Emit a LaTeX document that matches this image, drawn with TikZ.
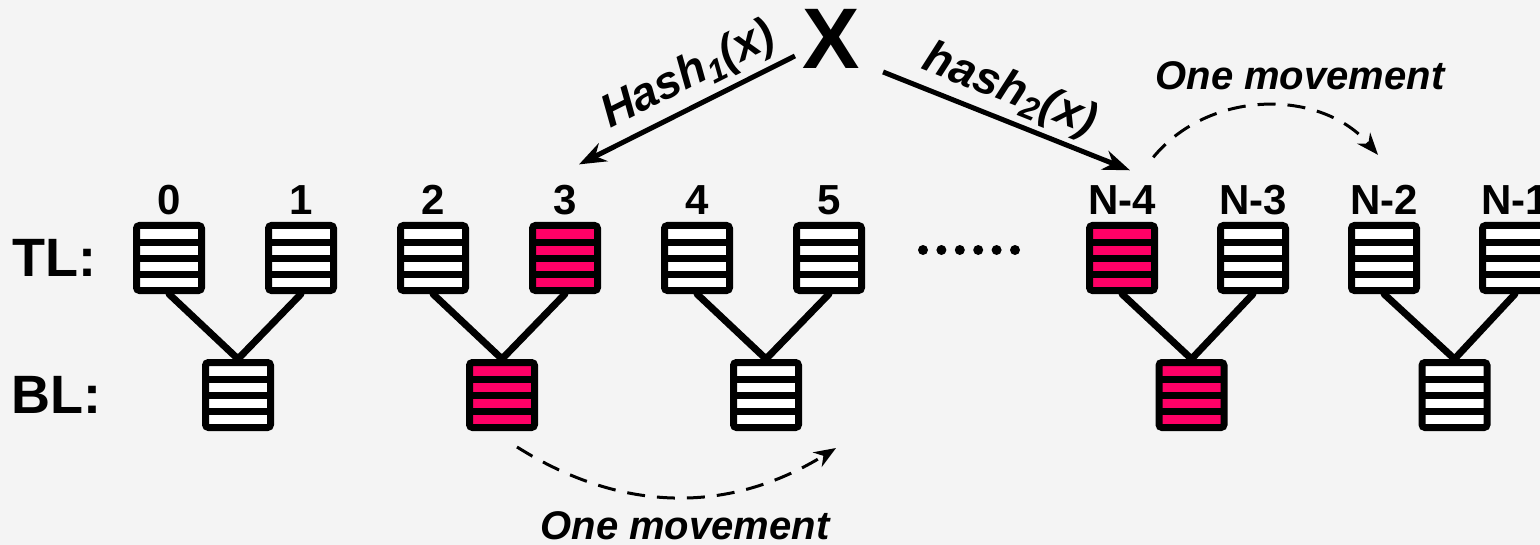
\documentclass[tikz,border=0pt]{standalone}
\usepackage{fontspec}
\setmainfont{Liberation Sans}
\usetikzlibrary{calc}
\usetikzlibrary{positioning}
\usetikzlibrary{arrows.meta}
\definecolor{hotred}{RGB}{255,0,102}
\definecolor{paper}{RGB}{244,244,244}

\begin{document}
\begin{tikzpicture}[x=0.5pt,y=-0.5pt,node distance=66pt,
  bucket/.style={draw,line width=3.5pt,fill=white,rounded corners=1.5pt,minimum size=32.5pt,inner sep=0pt,
    path picture={\foreach \s in {-8pt,0pt,8pt}
      \draw[line width=3.5pt] ([yshift=\s]path picture bounding box.west) -- ([yshift=\s]path picture bounding box.east);}},
  hot/.style={bucket,fill=hotred},
  num/.style={font=\fontsize{21}{25}\selectfont\bfseries,inner sep=0pt},
  lvl/.style={font=\fontsize{27}{32}\selectfont\bfseries,inner sep=0pt},
  lbl/.style={font=\fontsize{23}{27}\selectfont\bfseries\itshape,inner sep=0pt},
  mv/.style={font=\fontsize{20}{24}\selectfont\bfseries\itshape,inner sep=0pt},
  link/.style={line width=3.5pt,line cap=round},
  hasharrow/.style={line width=2.5pt,-{Stealth[length=13.5pt,width=10pt]}},
  move/.style={line width=1.5pt,dash pattern=on 9pt off 6pt,-{Stealth[length=11pt,width=8.5pt]}}]
\path[use as bounding box,fill=paper] (0,0) rectangle (1540,545);

% top level
\node[bucket] (t0) at (169,258) {};
\node[bucket] (t1) [right of=t0] {};
\node[bucket] (t2) [right of=t1] {};
\node[hot] (t3) [right of=t2] {};
\node[bucket] (t4) [right of=t3] {};
\node[bucket] (t5) [right of=t4] {};
\node[hot] (t6) [right of=t5, node distance=146.5pt] {};
\node[bucket] (t7) [right of=t6, node distance=65.5pt] {};
\node[bucket] (t8) [right of=t7, node distance=65.5pt] {};
\node[bucket] (t9) [right of=t8, node distance=65.5pt] {};

\node[num] (l0) [above=3.5pt of t0] {0};
\node[num] (l1) [above=3.5pt of t1] {1};
\node[num] (l2) [above=3.5pt of t2] {2};
\node[num] (l3) [above=3.5pt of t3] {3};
\node[num] (l4) [above=3.5pt of t4] {4};
\node[num] (l5) [above=3.5pt of t5] {5};
\node[num] (l6) [above=3.5pt of t6] {N-4};
\node[num] (l7) [above=3.5pt of t7] {N-3};
\node[num] (l8) [above=3.5pt of t8] {N-2};
\node[num] (l9) [above=3.5pt of t9] {N-1};

% bottom level
\node[bucket] (b0) at ($(t0)!0.5!(t1)+(3,137)$) {};
\node[hot] (b1) at ($(t2)!0.5!(t3)+(3,137)$) {};
\node[bucket] (b2) at ($(t4)!0.5!(t5)+(3,137)$) {};
\node[hot] (b3) at ($(t6)!0.5!(t7)+(4,137)$) {};
\node[bucket] (b4) at ($(t8)!0.5!(t9)+(5,137)$) {};

\node[lvl] (tl) [left=18pt of t0] {TL:};
\node[lvl,anchor=east,xshift=2.5pt] (bl) at (tl.east |- b0) {BL:};

\path[link]
    (t0.south) edge (b0.north)
    (t1.south) edge (b0.north)
    (t2.south) edge (b1.north)
    (t3.south) edge (b1.north)
    (t4.south) edge (b2.north)
    (t5.south) edge (b2.north)
    (t6.south) edge (b3.north)
    (t7.south) edge (b3.north)
    (t8.south) edge (b4.north)
    (t9.south) edge (b4.north)
;

\foreach \i in {0,...,5}
    \fill (923+\i*18.4,250) circle[radius=5];

% the item and its two hashes
\node[font=\fontsize{43}{50}\selectfont\bfseries,inner sep=0pt] (item) at (831,39) {X};
\draw[hasharrow] ([shift={(-3.5pt,6.5pt)}]item.south west) -- node[lbl,sloped,above=3pt,pos=0.43] {Hash\textsubscript{1}(x)} ([shift={(7pt,10pt)}]l3.north);
\draw[hasharrow] ([shift={(11.5pt,-1.5pt)}]item.south east) -- node[lbl,sloped,above=2.5pt,pos=0.47] {hash\textsubscript{2}(x)} ([shift={(4pt,7.5pt)}]l6.north);

% movements
\draw[move] ([shift={(-1.5pt,14pt)}]l6.north east) to[bend left=50] ([shift={(-3pt,15pt)}]l8.north);
\draw[move] ([shift={(7.5pt,-8pt)}]b1.south) to[bend right=32] ([shift={(17pt,-8.5pt)}]b2.south east);
\node[mv] (m1) at (1300,76) {One movement};
\node[mv] (m2) at (685,526) {One movement};
\end{tikzpicture}
\end{document}
